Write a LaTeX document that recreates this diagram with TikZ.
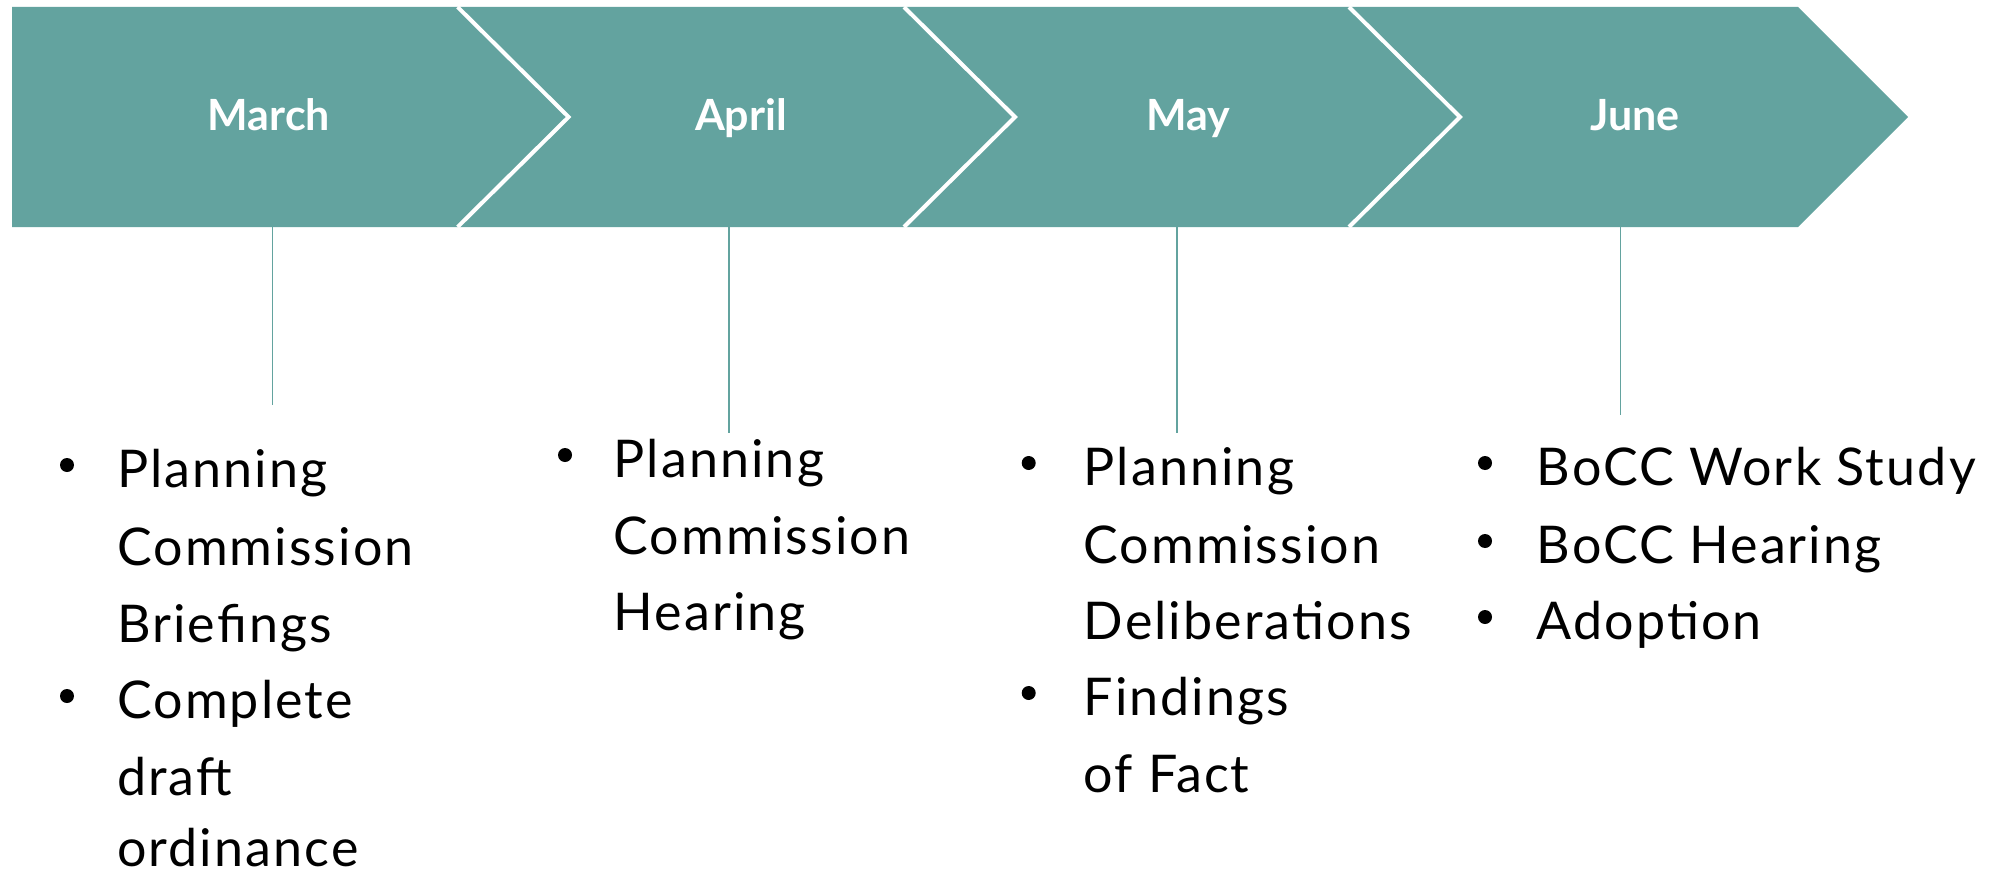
\documentclass[tikz,border=0pt]{standalone}
\usepackage{fontspec}
\setmainfont{Lato}
\newfontfamily\itemfont[LetterSpace=4]{Lato}
\definecolor{teal1}{RGB}{99,163,159}
\begin{document}
\begin{tikzpicture}[x=1pt,y=-1pt,
  month/.style={font=\fontsize{43}{50}\selectfont\bfseries, text=white, anchor=base, inner sep=0pt},
  item/.style={font=\itemfont\fontsize{52}{60}\selectfont, anchor=base west, inner sep=0pt},
  dot/.style={circle, fill=black, minimum size=14pt, inner sep=0pt},
  conn/.style={draw=teal1, line width=1.3pt},
  sep/.style={draw=white, line width=4pt}]
\useasboundingbox (0,0) rectangle (2000,875);
% banner
\fill[teal1] (12,7) -- (1798,7) -- (1908,117) -- (1798,227) -- (12,227) -- cycle;
\foreach \x in {457.6,904,1349} \draw[sep] (\x,7) -- (\x+111,117) -- (\x,227);
% month labels
\node[month] (mar) at (269,130) {March};
\node[month] (apr) at (741,130) {April};
\node[month] (may) at (1188,130) {May};
\node[month] (jun) at (1635,130) {June};
% connector coordinates
\coordinate (c1a) at (272.8,227); \coordinate (c1b) at (272.8,405);
\coordinate (c2a) at (729,227);   \coordinate (c2b) at (729,433);
\coordinate (c3a) at (1177,227);  \coordinate (c3b) at (1177,433);
\coordinate (c4a) at (1620.5,227);\coordinate (c4b) at (1620.5,415);
\draw[conn] (c1a) -- (c1b);
\draw[conn] (c2a) -- (c2b);
\draw[conn] (c3a) -- (c3b);
\draw[conn] (c4a) -- (c4b);
% March
\node[dot] (b11) at (67,465) {};
\node[item] (t11) at (117,487) {Planning};
\node[item] (t12) at (117,565) {Commission};
\node[item] (t13) at (117,642) {Briefings};
\node[dot] (b12) at (67,696) {};
\node[item] (t14) at (117,718) {Complete};
\node[item] (t15) at (117,795) {draft};
\node[item] (t16) at (117,866) {ordinance};
% April
\node[dot] (b21) at (565,455) {};
\node[item] (t21) at (613.5,477) {Planning};
\node[item] (t22) at (613.5,554) {Commission};
\node[item] (t23) at (613.5,630) {Hearing};
% May
\node[dot] (b31) at (1028.7,463) {};
\node[item] (t31) at (1083.5,485) {Planning};
\node[item] (t32) at (1083.5,563) {Commission};
\node[item] (t33) at (1083.5,639) {Deliberations};
\node[dot] (b32) at (1028.7,693) {};
\node[item] (t34) at (1083.5,715) {Findings};
\node[item] (t35) at (1083.5,792) {of Fact};
% June
\node[dot] (b41) at (1485,463) {};
\node[item] (t41) at (1536.5,485) {BoCC Work Study};
\node[dot] (b42) at (1485,541) {};
\node[item] (t42) at (1536.5,563) {BoCC Hearing};
\node[dot] (b43) at (1485,617) {};
\node[item] (t43) at (1536.5,639) {Adoption};
\end{tikzpicture}
\end{document}
